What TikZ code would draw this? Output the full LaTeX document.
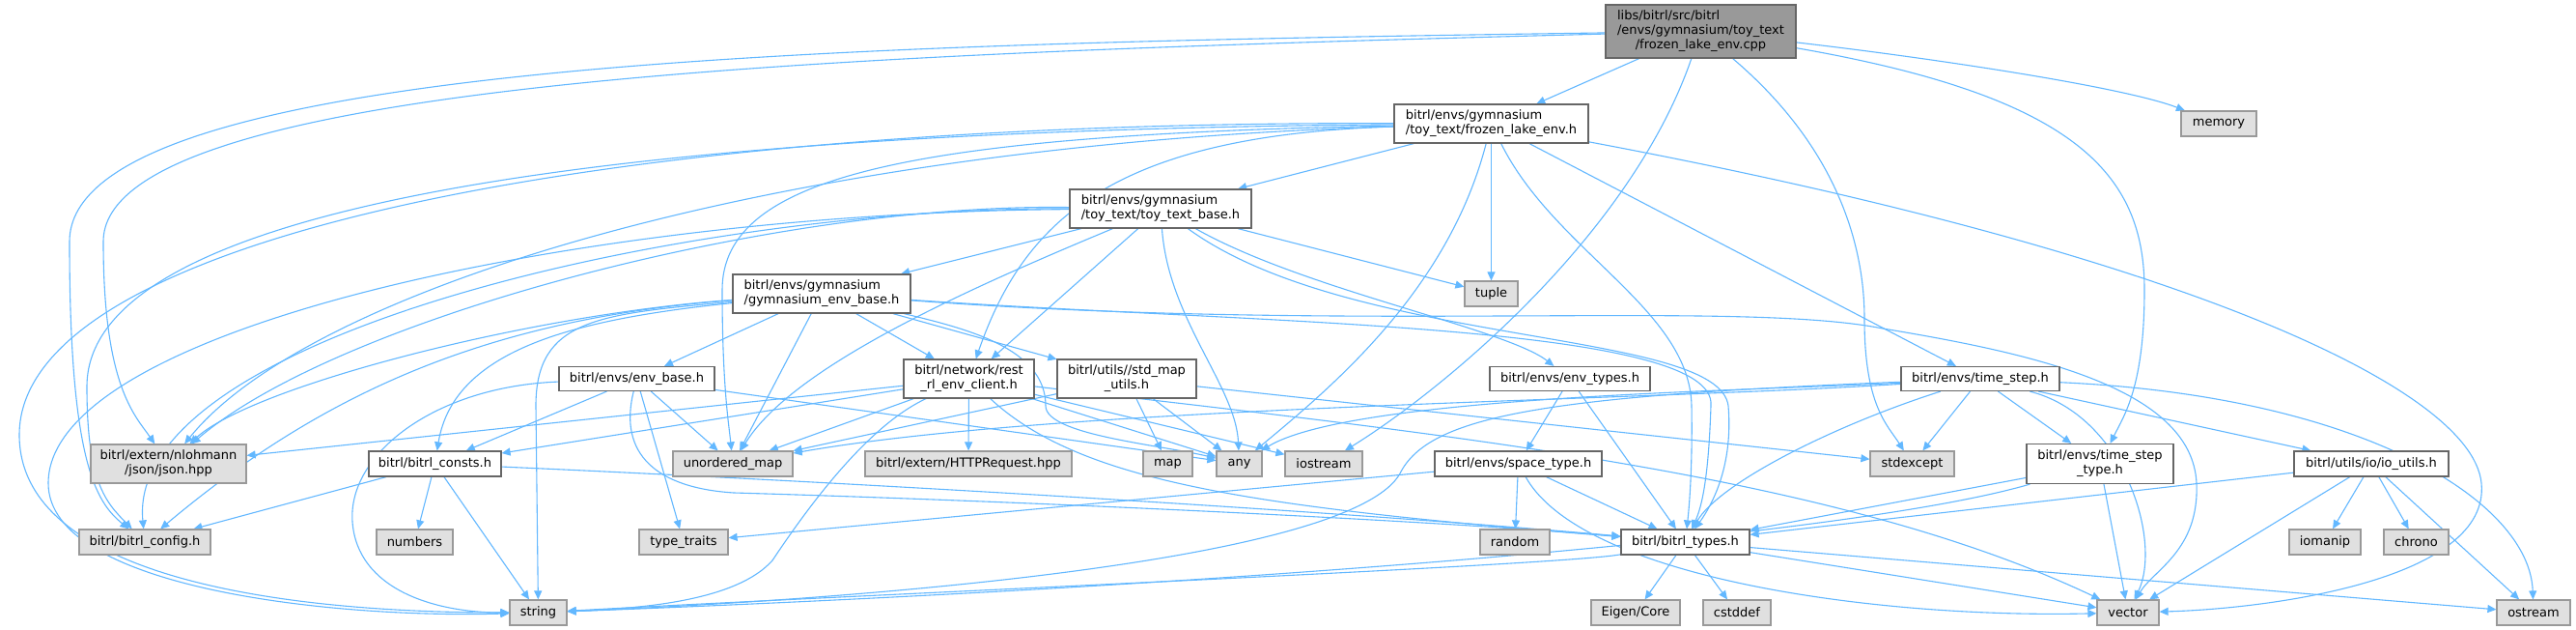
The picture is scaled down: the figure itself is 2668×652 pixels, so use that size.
\documentclass[tikz,border=0pt]{standalone}
\usepackage{fontspec}
\setmainfont{DejaVu Sans}
\usetikzlibrary{arrows.meta}
\pgfdeclarelayer{bg}
\pgfsetlayers{bg,main}
\definecolor{edgec}{HTML}{63B8FF}
\definecolor{grayfill}{HTML}{E0E0E0}
\definecolor{graydraw}{HTML}{999999}
\definecolor{rootfill}{HTML}{999999}
\definecolor{nodedraw}{HTML}{666666}
\newcommand{\twol}[2]{\begin{tabular}{@{}l@{}}#1\\\multicolumn{1}{@{}c@{}}{#2}\end{tabular}}
\begin{document}
\begin{tikzpicture}[x=0.5pt,y=-0.5pt,
  font=\fontsize{6.5}{7.35}\selectfont,
  box/.style={draw=nodedraw, fill=white, line width=0.6pt, inner sep=0pt, minimum height=13pt, text=black},
  sysbox/.style={box, draw=graydraw, fill=grayfill},
  rootbox/.style={box, fill=rootfill},
  edge/.style={draw=edgec, line width=0.55pt, -{Triangle[length=4.5pt,width=4pt]}}]
\useasboundingbox (0,0) rectangle (2668,652);
% nodes
\node[rootbox, minimum width=98.5pt, minimum height=27.5pt] (root) at (1761.5,32.5)
  {\begin{tabular}{@{}l@{}}libs/bitrl/src/bitrl\\/envs/gymnasium/toy\_text\\\multicolumn{1}{@{}c@{}}{/frozen\_lake\_env.cpp}\end{tabular}};
\node[box, minimum width=100.5pt, minimum height=20pt] (frozen) at (1544.5,128) {\twol{bitrl/envs/gymnasium}{/toy\_text/frozen\_lake\_env.h}};
\node[sysbox, minimum width=39pt] (memory) at (2298,128) {memory};
\node[box, minimum width=94pt, minimum height=20pt] (toy) at (1202,216) {\twol{bitrl/envs/gymnasium}{/toy\_text/toy\_text\_base.h}};
\node[box, minimum width=92pt, minimum height=20pt] (gym) at (851,304) {\twol{bitrl/envs/gymnasium}{/gymnasium\_env\_base.h}};
\node[sysbox, minimum width=27.5pt] (tuple) at (1544.5,304) {tuple};
\node[box, minimum width=67.5pt, minimum height=20pt] (rest) at (1003.5,392) {\twol{bitrl/network/rest}{\_rl\_env\_client.h}};
\node[box, minimum width=72pt, minimum height=20pt] (stdmap) at (1167,392) {\twol{bitrl/utils//std\_map}{\_utils.h}};
\node[box, minimum width=83pt, minimum height=12.5pt] (envtypes) at (1626,392) {bitrl/envs/env\_types.h};
\node[box, minimum width=80.5pt, minimum height=12.5pt] (envbase) at (659.5,392) {bitrl/envs/env\_base.h};
\node[box, minimum width=82pt, minimum height=12.5pt] (timestep) at (2051,392) {bitrl/envs/time\_step.h};
\node[sysbox, minimum width=80.5pt, minimum height=20pt] (json) at (174.5,480) {\twol{bitrl/extern/nlohmann}{/json/json.hpp}};
\node[box, minimum width=68.5pt] (consts) at (450.5,480) {bitrl/bitrl\_consts.h};
\node[sysbox, minimum width=62pt] (umap) at (759,480) {unordered\_map};
\node[sysbox, minimum width=107pt] (http) at (1003,480) {bitrl/extern/HTTPRequest.hpp};
\node[sysbox, minimum width=25.5pt] (map) at (1209.5,480) {map};
\node[sysbox, minimum width=23.5pt] (any) at (1283.5,480) {any};
\node[sysbox, minimum width=40pt] (iostream) at (1371,480) {iostream};
\node[box, minimum width=86.5pt] (space) at (1572.5,480) {bitrl/envs/space\_type.h};
\node[sysbox, minimum width=43.5pt] (stdexcept) at (1980.5,480) {stdexcept};
\node[box, minimum width=76pt, minimum height=20.5pt] (tstype) at (2175,480) {\twol{bitrl/envs/time\_step}{\_type.h}};
\node[box, minimum width=80pt] (ioutils) at (2456,480) {bitrl/utils/io/io\_utils.h};
\node[sysbox, minimum width=68pt] (config) at (150,561) {bitrl/bitrl\_config.h};
\node[sysbox, minimum width=39.5pt] (numbers) at (429.5,561) {numbers};
\node[sysbox, minimum width=46pt] (typetraits) at (708,561) {type\_traits};
\node[sysbox, minimum width=36pt] (random) at (1569,561) {random};
\node[box, minimum width=66.5pt] (types) at (1745.5,561) {bitrl/bitrl\_types.h};
\node[sysbox, minimum width=37pt] (iomanip) at (2408,561) {iomanip};
\node[sysbox, minimum width=33.5pt] (chrono) at (2502.5,561) {chrono};
\node[sysbox, minimum width=29.5pt] (string) at (557.5,634) {string};
\node[sysbox, minimum width=46pt] (eigen) at (1694,634) {Eigen/Core};
\node[sysbox, minimum width=35pt] (cstddef) at (1799,634) {cstddef};
\node[sysbox, minimum width=32pt] (vector) at (2204,634) {vector};
\node[sysbox, minimum width=38pt] (ostream) at (2624,634) {ostream};
% edges
\begin{pgfonlayer}{bg}
\fill[white] (0,0) rectangle (2668,652);
% root
\draw[edge] (root) -- (frozen);
\draw[edge] (root) .. controls (2000,60) and (2200,90) .. (memory);
\draw[edge] (root) .. controls (900,45) and (72,60) .. (72,250) .. controls (72,480) and (100,520) .. (config);
\draw[edge] (root) .. controls (900,55) and (107,80) .. (107,250) .. controls (107,400) and (140,430) .. (json);
\draw[edge] (root) .. controls (1690,240) and (1500,400) .. (iostream);
\draw[edge] (root) .. controls (1900,150) and (1931,250) .. (1931,330) .. controls (1931,420) and (1955,440) .. (stdexcept);
\draw[edge] (root) .. controls (2150,100) and (2221,180) .. (2221,300) .. controls (2221,400) and (2200,430) .. (tstype);
% frozen
\draw[edge] (frozen) -- (toy);
\draw[edge] (frozen) -- (tuple);
\draw[edge] (frozen) -- (timestep);
\draw[edge] (frozen) .. controls (2250,260) and (2560,400) .. (2570,500) .. controls (2580,600) and (2350,630) .. (vector);
\draw[edge] (frozen) .. controls (1610,260) and (1750,320) .. (1752,420) .. controls (1753,480) and (1750,520) .. (types);
\draw[edge] (frozen) .. controls (1500,300) and (1380,400) .. (any);
\draw[edge] (frozen) .. controls (1150,140) and (1060,230) .. (rest);
\draw[edge] (frozen) .. controls (800,150) and (320,300) .. (json);
\draw[edge] (frozen) .. controls (700,135) and (90,200) .. (90,400) .. controls (90,500) and (110,520) .. (config);
\draw[edge] (frozen) .. controls (600,125) and (20,250) .. (20,450) .. controls (20,600) and (300,634) .. (string);
\draw[edge] (frozen) .. controls (950,140) and (748,180) .. (748,300) .. controls (748,400) and (755,440) .. (umap);
% toy
\draw[edge] (toy) -- (gym);
\draw[edge] (toy) -- (tuple);
\draw[edge] (toy) .. controls (1350,300) and (1560,340) .. (envtypes);
\draw[edge] (toy) -- (rest);
\draw[edge] (toy) .. controls (1210,330) and (1280,400) .. (any);
\draw[edge] (toy) .. controls (1400,360) and (1780,340) .. (1790,420) .. controls (1795,480) and (1775,520) .. (types);
\draw[edge] (toy) .. controls (800,210) and (350,330) .. (json);
\draw[edge] (toy) .. controls (700,215) and (130,350) .. (config);
\draw[edge] (toy) .. controls (600,220) and (50,340) .. (50,500) .. controls (50,610) and (350,640) .. (string);
\draw[edge] (toy) .. controls (1000,300) and (820,380) .. (umap);
% gym
\draw[edge] (gym) -- (envbase);
\draw[edge] (gym) -- (rest);
\draw[edge] (gym) -- (stdmap);
\draw[edge] (gym) .. controls (600,330) and (470,360) .. (consts);
\draw[edge] (gym) .. controls (550,325) and (260,400) .. (json);
\draw[edge] (gym) .. controls (500,330) and (330,410) .. (config);
\draw[edge] (gym) .. controls (620,325) and (555,330) .. (555,420) -- (string);
\draw[edge] (gym) -- (umap);
\draw[edge] (gym) .. controls (1000,340) and (1083,360) .. (1083,420) .. controls (1083,450) and (1200,460) .. (any);
\draw[edge] (gym) .. controls (1300,335) and (1780,335) .. (1772,420) .. controls (1770,480) and (1765,520) .. (types);
\draw[edge] (gym) .. controls (1400,345) and (1800,310) .. (1950,340) .. controls (2100,365) and (2270,400) .. (2275,500) .. controls (2278,570) and (2230,590) .. (vector);
% envbase
\draw[edge] (envbase) -- (consts);
\draw[edge] (envbase) -- (typetraits);
\draw[edge] (envbase) .. controls (640,470) and (680,505) .. (760,510) .. controls (1100,520) and (1500,540) .. (types);
\draw[edge] (envbase) -- (umap);
\draw[edge] (envbase) -- (any);
\draw[edge] (envbase) .. controls (450,400) and (360,470) .. (365,540) .. controls (370,610) and (450,634) .. (string);
% rest
\draw[edge] (rest) -- (consts);
\draw[edge] (rest) -- (json);
\draw[edge] (rest) -- (umap);
\draw[edge] (rest) -- (http);
\draw[edge] (rest) -- (any);
\draw[edge] (rest) -- (iostream);
\draw[edge] (rest) .. controls (900,440) and (840,520) .. (800,580) .. controls (760,625) and (650,630) .. (string);
\draw[edge] (rest) .. controls (1120,500) and (1300,525) .. (types);
\draw[edge] (rest) .. controls (1500,450) and (1900,490) .. (vector);
% stdmap
\draw[edge] (stdmap) -- (umap);
\draw[edge] (stdmap) -- (map);
\draw[edge] (stdmap) -- (any);
\draw[edge] (stdmap) -- (stdexcept);
% consts
\draw[edge] (consts) -- (config);
\draw[edge] (consts) -- (numbers);
\draw[edge] (consts) -- (string);
\draw[edge] (consts) .. controls (900,500) and (1400,530) .. (types);
% envtypes
\draw[edge] (envtypes) -- (space);
\draw[edge] (envtypes) -- (types);
% space
\draw[edge] (space) -- (typetraits);
\draw[edge] (space) -- (random);
\draw[edge] (space) -- (types);
\draw[edge] (space) .. controls (1640,600) and (1950,640) .. (vector);
% timestep
\draw[edge] (timestep) -- (tstype);
\draw[edge] (timestep) -- (ioutils);
\draw[edge] (timestep) -- (stdexcept);
\draw[edge] (timestep) .. controls (1900,440) and (1780,500) .. (types);
\draw[edge] (timestep) .. controls (2200,430) and (2240,560) .. (vector);
\draw[edge] (timestep) .. controls (2450,410) and (2620,520) .. (ostream);
\draw[edge] (timestep) .. controls (1600,410) and (1480,430) .. (1450,490) .. controls (1400,580) and (900,620) .. (string);
\draw[edge] (timestep) .. controls (1800,405) and (1400,410) .. (any);
\draw[edge] (timestep) .. controls (1700,415) and (1100,420) .. (umap);
% tstype
\draw[edge] (tstype) -- (types);
\draw[edge] (tstype) .. controls (1900,560) and (1200,610) .. (string);
\draw[edge] (tstype) -- (vector);
% ioutils
\draw[edge] (ioutils) -- (types);
\draw[edge] (ioutils) -- (vector);
\draw[edge] (ioutils) -- (iomanip);
\draw[edge] (ioutils) -- (chrono);
\draw[edge] (ioutils) -- (ostream);
% types
\draw[edge] (types) .. controls (1620,585) and (900,615) .. (string);
\draw[edge] (types) -- (vector);
\draw[edge] (types) -- (ostream);
\draw[edge] (types) -- (eigen);
\draw[edge] (types) -- (cstddef);
\end{pgfonlayer}
\end{tikzpicture}
\end{document}
